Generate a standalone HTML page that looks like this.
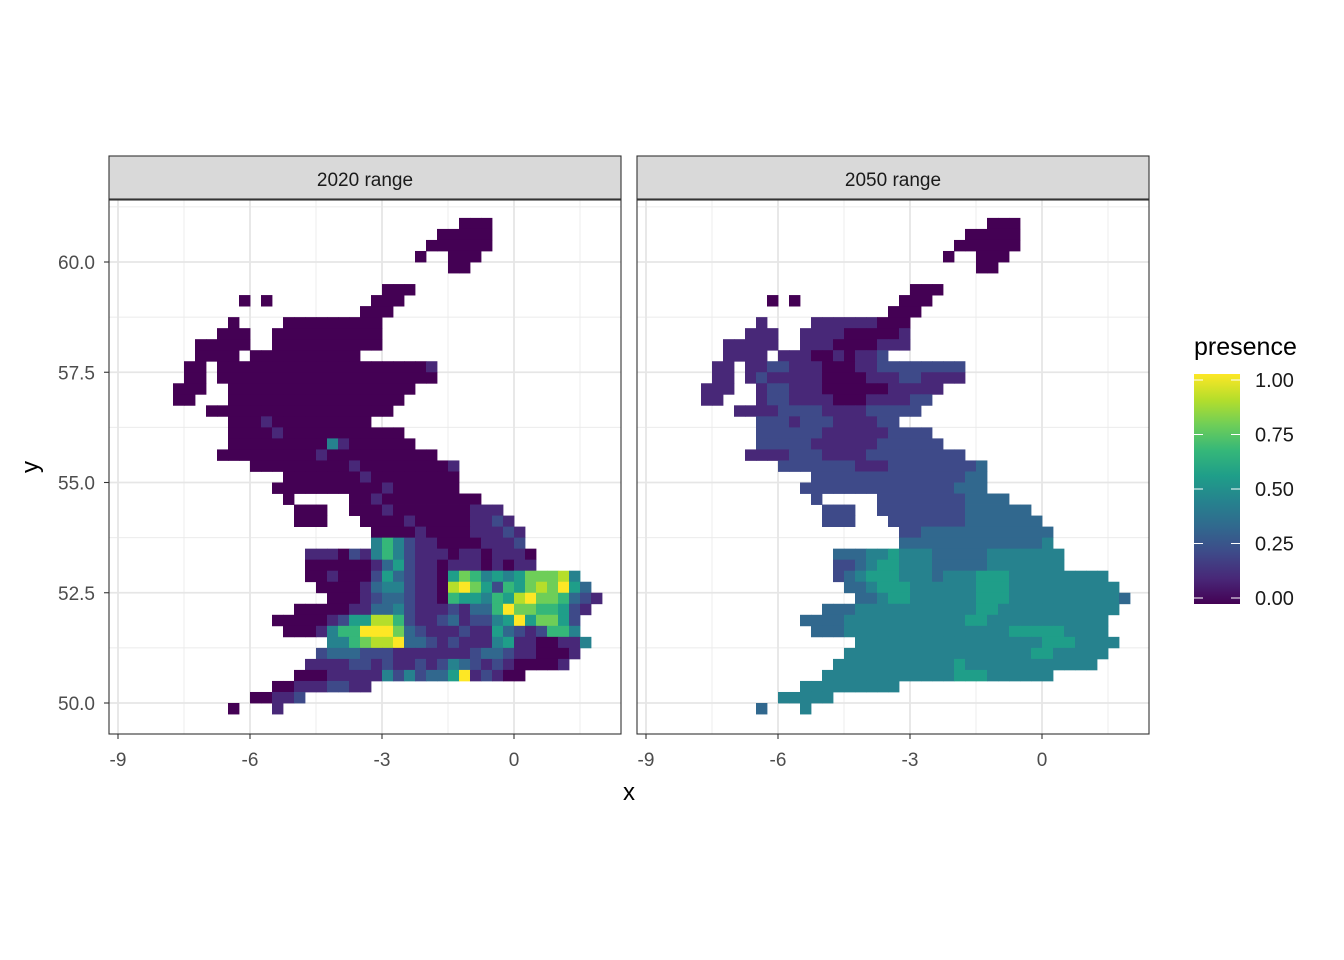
<!DOCTYPE html>
<html><head><meta charset="utf-8">
<style>
html,body{margin:0;padding:0;background:#fff;}
svg{display:block;font-family:"Liberation Sans",Arial,sans-serif;}
</style></head>
<body>
<svg id="chart" width="1344" height="960" viewBox="0 0 1344 960" xmlns="http://www.w3.org/2000/svg">
<rect width="1344" height="960" fill="#fff"/>
</svg>
<script>
// ---- data ----
const panelTitles = ["2020 range", "2050 range"];
const xTicks = [-9, -6, -3, 0];
const yTicks = [50, 52.5, 55, 57.5, 60];
const yTickLabels = ["50.0", "52.5", "55.0", "57.5", "60.0"];
const legendTicks = [0, 0.25, 0.5, 0.75, 1];
const legendLabels = ["0.00", "0.25", "0.50", "0.75", "1.00"];
// grid: cell lon = -8.5 + 0.25*col, cell top lat = 61 - 0.25*row ; digit d => value d/9
const p1Rows = [
[[29,"000"]],
[[27,"00000"]],
[[26,"000000"]],
[[25,"0"],[28,"000"]],
[[28,"00"]],
[],
[[22,"000"]],
[[9,"0"],[11,"0"],[21,"000"]],
[[20,"000"]],
[[8,"0"],[13,"000000000"]],
[[7,"000"],[12,"0000000000"]],
[[5,"00000"],[12,"0000000000"]],
[[5,"0000"],[10,"0000000000"]],
[[4,"00"],[7,"00000000000000000001"]],
[[4,"00"],[7,"00000000000000000000"]],
[[3,"000"],[8,"00000000000000000"]],
[[3,"00"],[8,"0000000000000000"]],
[[6,"00000000000000000"]],
[[8,"0001000000000"]],
[[8,"0000100000000000"]],
[[8,"00000000041000000"]],
[[7,"00000000010000000000"]],
[[10,"0000000001000000001"]],
[[13,"0000000100000000"]],
[[12,"00000000001000000"]],
[[13,"0"],[19,"001000000000"]],
[[14,"000"],[19,"00010000000111"]],
[[14,"000"],[20,"00001000001121"]],
[[21,"00001000011121"]],
[[21,"46421100001112"]],
[[15,"111021464211101101110"]],
[[15,"000000135211011101011"]],
[[15,"0010002532110576454577784"]],
[[16,"0000134421108975265787953"]],
[[17,"0001233211065546589776321"]],
[[14,"000001133421112133697766521"]],
[[12,"0000012558862112312245957752"]],
[[13,"000146699973211121153212664"]],
[[17,"446788933212111451100114"]],
[[16,"233322211111112332110001"]],
[[15,"111122121121243212100001"]],
[[14,"000111114242335912100"]],
[[12,"001112211"]],
[[10,"00112"]],
[[8,"0"],[12,"1"]]
];
const p2Rows = [
[[29,"000"]],
[[27,"00000"]],
[[26,"000000"]],
[[25,"0"],[28,"000"]],
[[28,"00"]],
[],
[[22,"000"]],
[[9,"0"],[11,"0"],[21,"000"]],
[[20,"000"]],
[[8,"1"],[13,"111111000"]],
[[7,"111"],[12,"1111000001"]],
[[5,"11111"],[12,"1110000111"]],
[[5,"1111"],[10,"1110010112"]],
[[4,"11"],[7,"11221110001122222222"]],
[[4,"11"],[7,"12111110000111221111"]],
[[3,"111"],[8,"12211100000011111"]],
[[3,"11"],[8,"1221111000111122"]],
[[6,"11112222111122222"]],
[[8,"2221222111122"]],
[[8,"2222221111112222"]],
[[8,"22222111111222222"]],
[[7,"11112221111222222222"]],
[[10,"2222222111222222223"]],
[[13,"2222222222222233"]],
[[12,"22222222222222333"]],
[[13,"2"],[19,"222222223333"]],
[[14,"222"],[19,"22222222333333"]],
[[14,"222"],[20,"22222223333333"]],
[[21,"22333333333333"]],
[[21,"33333333333334"]],
[[15,"333445444333334444444"]],
[[15,"223455444333334444444"]],
[[15,"2345554443444555444444444"]],
[[16,"3345554444445554444444444"]],
[[17,"3345544444455544444444443"]],
[[14,"333444444444445544444444444"]],
[[12,"3333444444444445544444444444"]],
[[13,"333444444444444444555554444"]],
[[17,"444444444444444445554444"]],
[[16,"444444444444444445544444"]],
[[15,"444444444445444444444444"]],
[[14,"444444444444555444444"]],
[[12,"444444444"]],
[[10,"44444"]],
[[8,"3"],[12,"4"]]
];
const panelData = [p1Rows, p2Rows];

// ---- helpers ----
const NS = "http://www.w3.org/2000/svg";
const svg = document.getElementById("chart");
const viridis = ["#440154","#482878","#3e4a89","#31688e","#26828e","#1f9e89","#35b779","#6ece58","#b5de2b","#fde725"];
function hex2rgb(h){return [parseInt(h.substr(1,2),16),parseInt(h.substr(3,2),16),parseInt(h.substr(5,2),16)];}
function colorFor(v){
  const t=Math.max(0,Math.min(1,v))*9; const i=Math.min(8,Math.floor(t)); const f=t-i;
  const a=hex2rgb(viridis[i]), b=hex2rgb(viridis[i+1]);
  return "rgb("+a.map((c,k)=>Math.round(c+(b[k]-c)*f)).join(",")+")";
}
function mk(tag, attrs, parent){const e=document.createElementNS(NS,tag);for(const k in attrs)e.setAttribute(k,attrs[k]);(parent||svg).appendChild(e);return e;}

const panelLeft = [109, 637];
const panelW = 512, panelTop = 200, panelBottom = 734;
function xScale(lon, p){ return panelLeft[p] + 9 + 44*(lon+9); }
function yScale(lat){ return 262 + 44.1*(60-lat); }

for (let p=0; p<2; p++){
  const g = mk("g",{});
  
  
  const L = panelLeft[p];
  mk("rect",{x:L,y:panelTop,width:panelW,height:panelBottom-panelTop,fill:"#fff"},g);
  [-7.5,-4.5,-1.5,1.5].forEach(v=>{const x=xScale(v,p);mk("line",{x1:x,x2:x,y1:panelTop,y2:panelBottom,stroke:"#ebebeb","stroke-width":0.9},g);});
  [51.25,53.75,56.25,58.75,61.25].forEach(v=>{const y=yScale(v);mk("line",{x1:L,x2:L+panelW,y1:y,y2:y,stroke:"#ebebeb","stroke-width":0.9},g);});
  xTicks.forEach(v=>{const x=xScale(v,p);mk("line",{x1:x,x2:x,y1:panelTop,y2:panelBottom,stroke:"#e6e6e6","stroke-width":1.8},g);});
  yTicks.forEach(v=>{const y=yScale(v);mk("line",{x1:L,x2:L+panelW,y1:y,y2:y,stroke:"#e6e6e6","stroke-width":1.8},g);});
  const rows = panelData[p];
  rows.forEach((segs,r)=>{
    segs.forEach(seg=>{
      const start=seg[0], digits=seg[1];
      for(let k=0;k<digits.length;k++){
        const lon=-8.5+0.25*(start+k), lat=61-0.25*r;
        const x0=xScale(lon,p), x1=xScale(lon+0.25,p), y0=yScale(lat), y1=yScale(lat-0.25);
        const c=mk("rect",{x:x0.toFixed(2),y:y0.toFixed(2),width:(x1-x0+0.4).toFixed(2),height:(y1-y0+0.4).toFixed(2),fill:colorFor(+digits[k]/9)},g);
        
        
      }
    });
  });
  mk("rect",{x:L,y:panelTop,width:panelW,height:panelBottom-panelTop,fill:"none",stroke:"#333","stroke-width":1.1},g);
  const s=mk("rect",{x:L,y:156,width:panelW,height:43,fill:"#d9d9d9",stroke:"#333","stroke-width":1.1},g);
  
  
  const st=mk("text",{x:L+panelW/2,y:186,"text-anchor":"middle","font-size":"19",fill:"#1a1a1a"},g);
  st.textContent=panelTitles[p];
  
  
  xTicks.forEach(v=>{
    const x=xScale(v,p);
    mk("line",{x1:x,x2:x,y1:panelBottom,y2:panelBottom+5,stroke:"#333","stroke-width":1.1},g);
    const t=mk("text",{x:x,y:766,"text-anchor":"middle","font-size":"19",fill:"#4d4d4d"},g);
    t.textContent=String(v);
    
    
  });
}
yTicks.forEach((v,i)=>{
  const y=yScale(v);
  mk("line",{x1:104,x2:109,y1:y,y2:y,stroke:"#333","stroke-width":1.1});
  const t=mk("text",{x:95,y:y+7,"text-anchor":"end","font-size":"19",fill:"#4d4d4d"});
  t.textContent=yTickLabels[i];
  
  
});
const xt=mk("text",{x:629,y:800,"text-anchor":"middle","font-size":"24",fill:"#000"});
xt.textContent="x";


const yt=mk("text",{x:38,y:467,"text-anchor":"middle","font-size":"24",fill:"#000",transform:"rotate(-90 38 467)"});
yt.textContent="y";



const lg=mk("g",{});


const defs=mk("defs",{},lg);
const grad=mk("linearGradient",{id:"vir",x1:"0",y1:"1",x2:"0",y2:"0"},defs);
viridis.forEach((c,i)=>mk("stop",{offset:(i/9).toFixed(3),"stop-color":c},grad));
function legY(v){return 598 - 218*v;}
const barTop=legY(1)-6, barBot=legY(0)+6;
const bar=mk("rect",{x:1194,y:barTop,width:46,height:barBot-barTop,fill:"url(#vir)"},lg);


legendTicks.forEach((v,i)=>{
  const y=legY(v);
  mk("line",{x1:1194,x2:1203,y1:y,y2:y,stroke:"#fff","stroke-width":1},lg);
  mk("line",{x1:1231,x2:1240,y1:y,y2:y,stroke:"#fff","stroke-width":1},lg);
  const t=mk("text",{x:1255,y:y+7,"font-size":"20",fill:"#1a1a1a"},lg);
  t.textContent=legendLabels[i];
  
  
});
const lt=mk("text",{x:1194,y:355,"font-size":"25",fill:"#000"},lg);
lt.textContent="presence";


</script>
</body></html>
